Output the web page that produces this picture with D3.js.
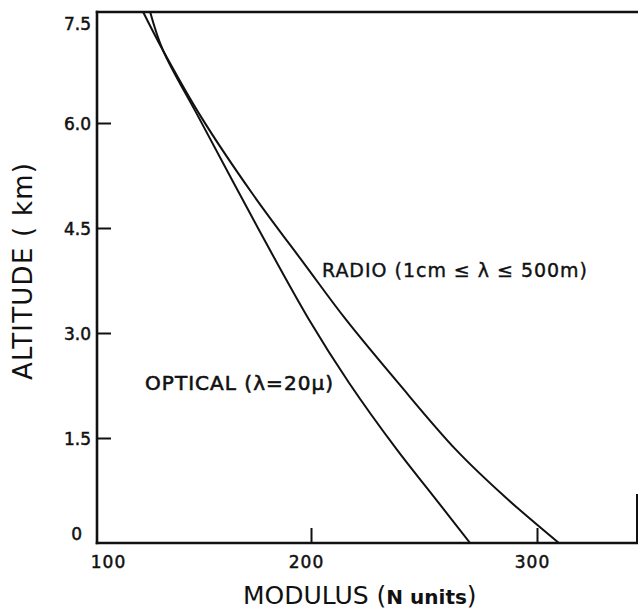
<!DOCTYPE html>
<html>
<head>
<meta charset="utf-8">
<script src="https://cdn.jsdelivr.net/npm/d3@7"></script>
<style>
  html, body { margin: 0; padding: 0; background: #fff; }
  svg { display: block; }
  text { font-family: "DejaVu Sans", "Liberation Sans", sans-serif; fill: #111; }
</style>
</head>
<body>
<svg id="chart" width="638" height="612"></svg>
<script>
// Refractive modulus profiles (N units) against altitude (km)
const opticalAltitude = [0, 0.66, 1.33, 2.29, 3.19, 4.5, 6.07, 7.04, 7.59];
const opticalModulus  = [270.4, 254.4, 238.1, 216.8, 199.1, 175.2, 147.7, 130.8, 124.8];

const radioAltitude = [0, 0.66, 1.33, 2.29, 3.19, 3.97, 5.0, 6.07, 7.04, 7.59];
const radioModulus  = [309.7, 285.8, 264.2, 238.5, 215.5, 197.3, 172.4, 149.0, 130.8, 121.5];

const xTickValues = [100, 200, 300];
const xTickLabels = ["100", "200", "300"];
const yTickValues = [0, 1.5, 3.0, 4.5, 6.0, 7.5];
const yTickLabels = ["0", "1.5", "3.0", "4.5", "6.0", "7.5"];

const seriesLabels = {
  radio: "RADIO  (1cm \u2264 \u03bb \u2264 500m)",
  optical: "OPTICAL (\u03bb=20\u03bc)"
};

const svg = d3.select("#chart");
const ink = "#111";

// Hand-ruled axis: each hundred N units gets its own span
const x = d3.scaleLinear().domain([100, 200, 300]).range([97, 311, 537]);
const y = d3.scaleLinear().domain([0, 7.5]).range([543, 18]);

const plotLeft = x(100), plotRight = 637, plotBottom = y(0), plotTop = 12;

// Frame
const frame = svg.append("g").attr("stroke", ink).attr("fill", "none").attr("stroke-linecap", "square");
frame.append("line").attr("x1", plotLeft).attr("y1", plotTop).attr("x2", 638).attr("y2", plotTop).attr("stroke-width", 2.4);
frame.append("line").attr("x1", plotLeft).attr("y1", plotTop).attr("x2", plotLeft).attr("y2", plotBottom).attr("stroke-width", 2.6);
frame.append("line").attr("x1", plotLeft).attr("y1", plotBottom).attr("x2", plotRight).attr("y2", plotBottom).attr("stroke-width", 2.6);
frame.append("line").attr("x1", plotRight).attr("y1", 495).attr("x2", plotRight).attr("y2", plotBottom).attr("stroke-width", 2);

// Y axis: inward tick marks and labels
const yAxis = d3.axisLeft(y)
  .tickValues(yTickValues)
  .tickFormat((d, i) => yTickLabels[i])
  .tickSizeInner(-14)
  .tickSizeOuter(0)
  .tickPadding(6);
const gy = svg.append("g").attr("transform", `translate(${plotLeft},0)`).call(yAxis);
gy.select(".domain").remove();
gy.selectAll(".tick line").attr("stroke", ink).attr("stroke-width", 2)
  .attr("display", d => (d === 0 || d === 7.5) ? "none" : null);
gy.selectAll(".tick text")
  .attr("font-size", 17)
  .attr("fill", ink).attr("stroke", ink).attr("stroke-width", 0.5)
  .attr("dy", d => d === 0 ? "-0.2em" : d === 7.5 ? "0.65em" : "0.4em")
  .attr("x", d => d === 0 ? -15 : -6);

// X axis: upward tick marks and labels
const xAxis = d3.axisBottom(x)
  .tickValues(xTickValues)
  .tickFormat((d, i) => xTickLabels[i])
  .tickSizeInner(-15)
  .tickSizeOuter(0)
  .tickPadding(13);
const gx = svg.append("g").attr("transform", `translate(0,${plotBottom})`).call(xAxis);
gx.select(".domain").remove();
gx.selectAll(".tick line").attr("stroke", ink).attr("stroke-width", 2)
  .attr("display", d => d === 100 ? "none" : null);
gx.selectAll(".tick text")
  .attr("font-size", 17).attr("letter-spacing", 1)
  .attr("fill", ink).attr("stroke", ink).attr("stroke-width", 0.5)
  .attr("dx", d => d === 100 ? 11 : -5);

// Axis titles
svg.append("text")
  .attr("transform", "translate(32,380) rotate(-90)")
  .attr("font-size", 26)
  .attr("textLength", 217).attr("lengthAdjust", "spacing")
  .text("ALTITUDE  ( km)");

const xt = svg.append("text")
  .attr("x", 243).attr("y", 604)
  .attr("font-size", 25);
xt.append("tspan").text("MODULUS (");
xt.append("tspan").attr("font-size", 20).attr("font-weight", 700).text("N units");
xt.append("tspan").text(")");

// Profiles
const line = d3.line()
  .x(d => x(d[1]))
  .y(d => y(d[0]))
  .curve(d3.curveCatmullRom.alpha(0.5));

svg.append("clipPath").attr("id", "plot-clip")
  .append("rect").attr("x", plotLeft).attr("y", plotTop)
  .attr("width", plotRight - plotLeft).attr("height", plotBottom - plotTop);

const profiles = svg.append("g").attr("clip-path", "url(#plot-clip)")
  .attr("fill", "none").attr("stroke", ink).attr("stroke-width", 2);
profiles.append("path").attr("d", line(d3.zip(opticalAltitude, opticalModulus)));
profiles.append("path").attr("d", line(d3.zip(radioAltitude, radioModulus)));

// Curve labels
svg.append("text")
  .attr("x", 322).attr("y", 277)
  .attr("font-size", 19)
  .attr("stroke", ink).attr("stroke-width", 0.4)
  .attr("textLength", 265).attr("lengthAdjust", "spacing")
  .text(seriesLabels.radio);
svg.append("text")
  .attr("x", 145).attr("y", 390)
  .attr("font-size", 20)
  .attr("stroke", ink).attr("stroke-width", 0.6)
  .attr("textLength", 188).attr("lengthAdjust", "spacing")
  .text(seriesLabels.optical);
</script>
</body>
</html>
